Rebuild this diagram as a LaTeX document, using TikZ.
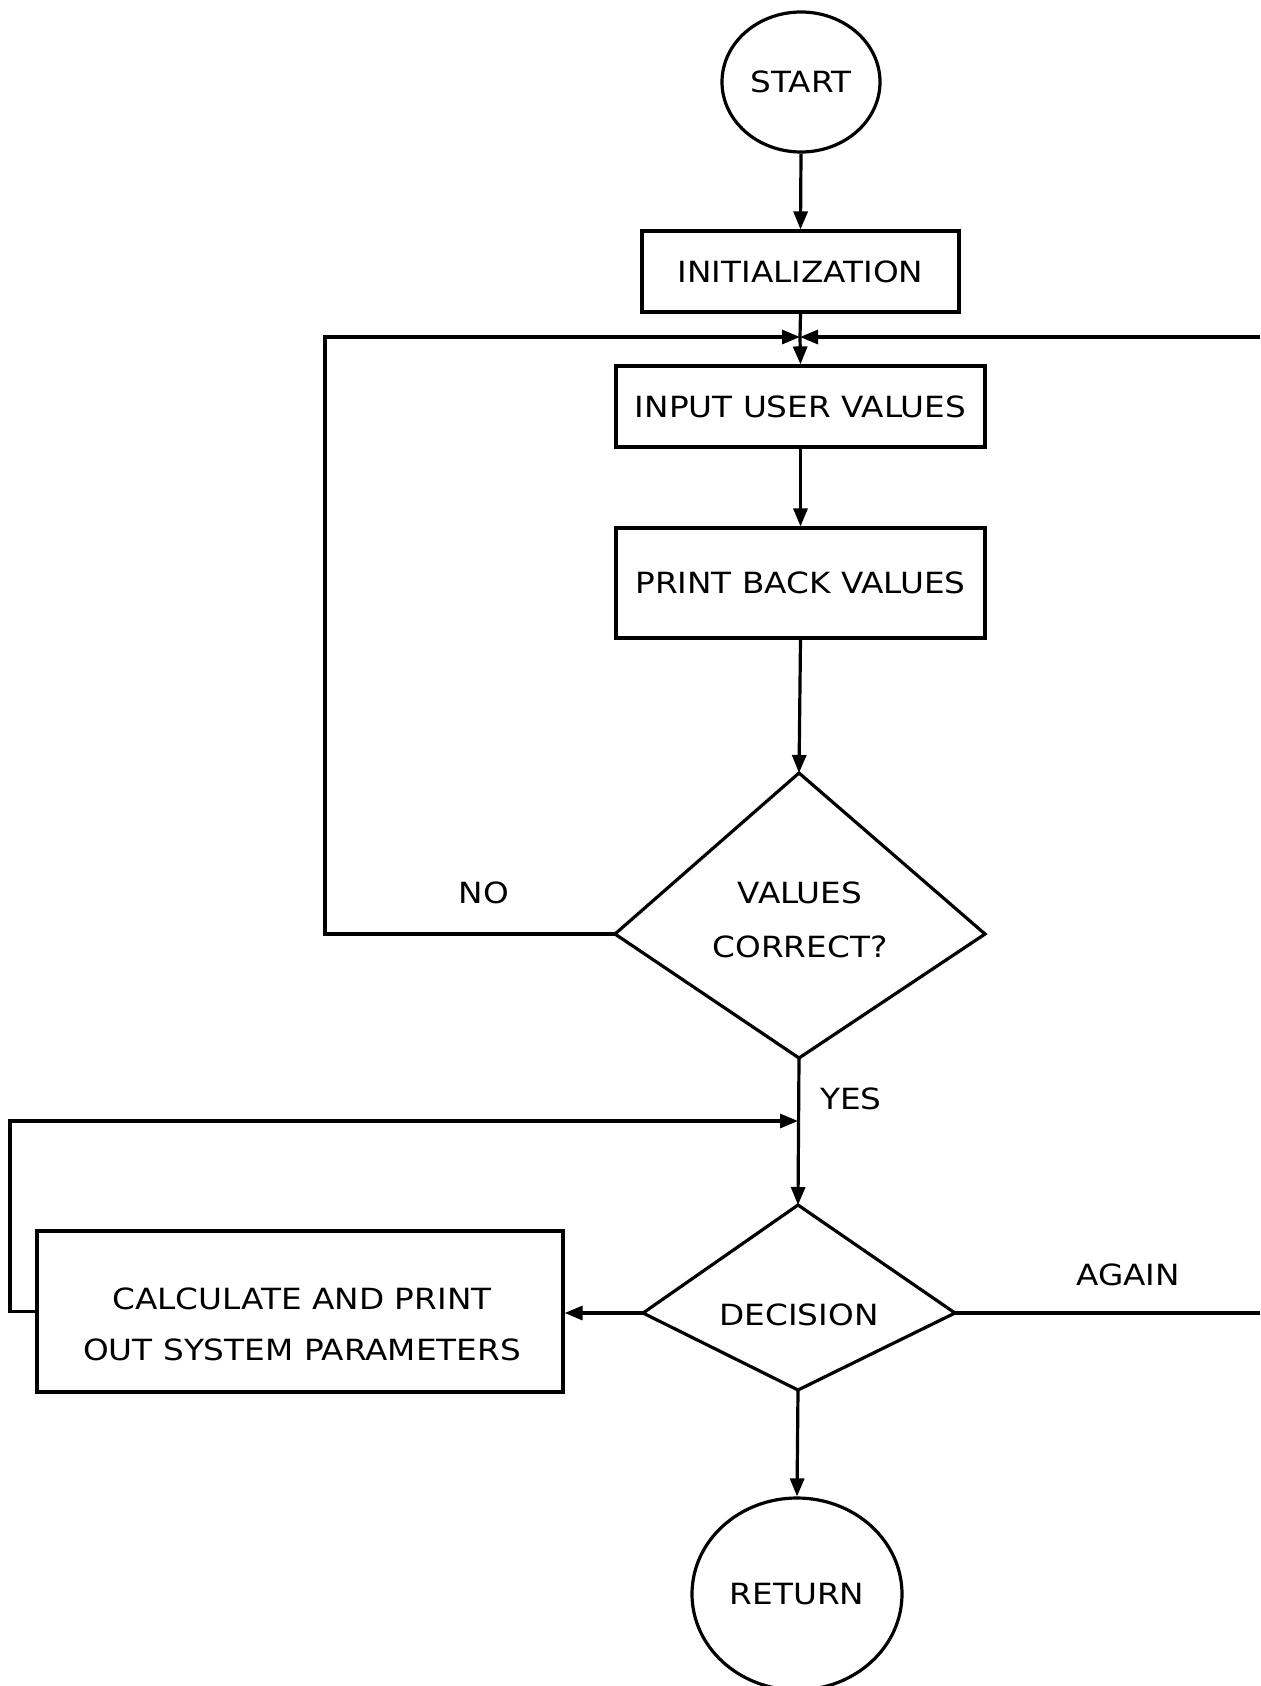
\documentclass[tikz,border=0pt]{standalone}
\usepackage{fontspec}
\setmainfont{DejaVu Sans}[FakeStretch=1.12]
\usetikzlibrary{arrows.meta,shapes.geometric}
\begin{document}
\begin{tikzpicture}[x=0.5pt,y=-0.5pt,
  line width=1.6pt,
  flow/.style={-{Triangle[length=9pt,width=7pt]}},
  proc/.style={draw,rectangle,inner sep=0pt,align=center},
  term/.style={draw,ellipse,inner sep=0pt},
  lbl/.style={inner sep=0pt,align=center},
  font=\fontsize{14.6}{27}\selectfont]
\useasboundingbox (0,0) rectangle (1260,1686);

% terminals and process boxes
\node[term,minimum width=79pt,minimum height=70pt] (start) at (801,82) {START};
\node[proc,minimum width=158.5pt,minimum height=40.5pt] (init) at (800.5,271.5) {INITIALIZATION};
\node[proc,minimum width=184.5pt,minimum height=40.5pt] (input) at (800.5,406.5) {INPUT USER VALUES};
\node[proc,minimum width=184.5pt,minimum height=55pt] (print) at (800.5,583) {PRINT BACK VALUES};
\node[proc,minimum width=263pt,minimum height=80.5pt] (calc) at (300,1311.5) {};
\node[lbl,font=\fontsize{14.6}{25.5}\selectfont] (calctext) at (302,1324) {CALCULATE AND PRINT\\OUT SYSTEM PARAMETERS};
\node[term,minimum width=105pt,minimum height=96pt] (ret) at (797,1594) {RETURN};

% decision: values correct?
\coordinate (vt) at (799,773);
\coordinate (vl) at (615,934);
\coordinate (vr) at (985,934);
\coordinate (vb) at (799,1058);
\draw (vt) -- (vr) -- (vb) -- (vl) -- cycle;
\node[lbl] (vtext) at (800,920) {VALUES\\CORRECT?};

% decision: again / calculate / return
\coordinate (dt) at (798,1205);
\coordinate (dl) at (643,1313);
\coordinate (dr) at (955,1313);
\coordinate (db) at (798,1390);
\draw (dt) -- (dr) -- (db) -- (dl) -- cycle;
\node[lbl] (dtext) at (799,1315) {DECISION};

% branch labels
\node[lbl] (no) at (484,893) {NO};
\node[lbl] (yes) at (851,1099) {YES};
\node[lbl] (again) at (1128,1275) {AGAIN};

% junctions and loop corners
\coordinate (j) at (800,337);
\coordinate (nl) at (325,337);
\coordinate (re) at (1260,337);
\coordinate (k) at (798,1121);
\coordinate (cl) at (10,1121);
\coordinate (ae) at (1260,1313);

% connectors
\draw[flow] (start.south) -- (init.north);
\draw (init.south) -- (j);
\draw[flow] (j) -- (input.north);
\draw[flow] (input.south) -- (print.north);
\draw[flow] (print.south) -- (vt);
\draw[flow] (vl) -| (nl) -- (j);
\draw[flow] (re) -- (j);
\draw[flow] (vb) -- (dt);
\draw[flow] (calc.west) -| (cl) -- (k);
\draw[flow] (dl) -- (dl -| calc.east);
\draw (dr) -- (ae);
\draw[flow] (db) -- (ret.north);
\end{tikzpicture}
\end{document}
